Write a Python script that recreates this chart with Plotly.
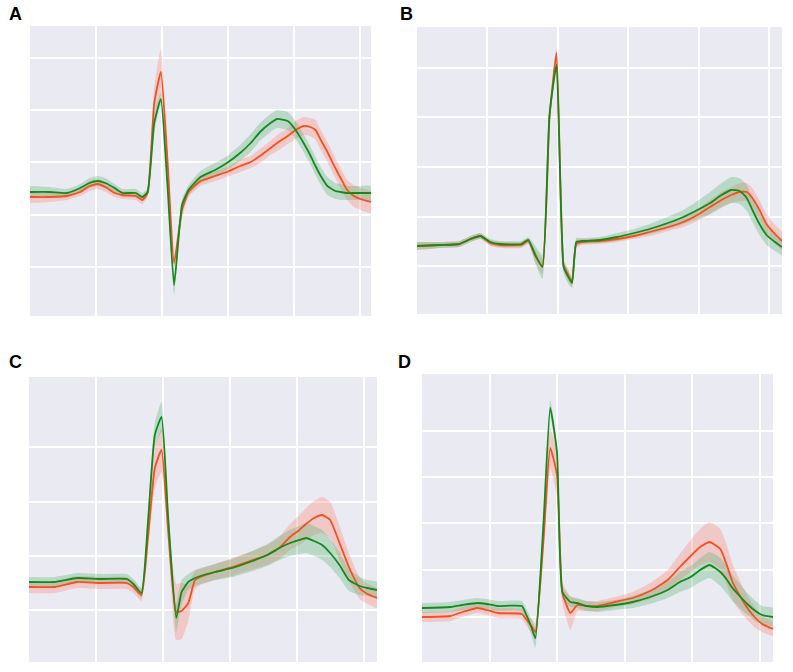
import numpy as np
import plotly.graph_objects as go

# ---------------- data (sample index, amplitude in arbitrary units) ----------------
# Panel A
xA = [0, 15, 28, 38, 45, 51, 57, 64, 70, 80, 85, 89, 94, 99, 104, 109, 115, 120, 129, 140,
      149, 159, 167, 174, 182, 187, 195, 201, 207, 212, 216, 220, 225, 231, 235, 240, 245, 250, 258]
greenA = [-0.60, -0.60, -0.62, -0.52, -0.42, -0.38, -0.42, -0.52, -0.62, -0.62, -0.70, -0.60, 0.78, 1.26,
          -0.46, -2.46, -0.86, -0.56, -0.30, -0.16, -0.02, 0.18, 0.38, 0.60, 0.78, 0.86, 0.82, 0.64, 0.38,
          0.14, -0.08, -0.28, -0.48, -0.58, -0.60, -0.62, -0.62, -0.62, -0.62]
orangeA = [-0.70, -0.70, -0.68, -0.60, -0.48, -0.44, -0.50, -0.62, -0.66, -0.68, -0.76, -0.62, 1.18, 1.80,
           0.04, -2.02, -0.96, -0.60, -0.38, -0.28, -0.20, -0.08, 0.00, 0.12, 0.28, 0.38, 0.52, 0.64, 0.72,
           0.70, 0.64, 0.44, 0.20, -0.12, -0.32, -0.56, -0.68, -0.74, -0.80]
greenA_sd = [0.12, 0.10, 0.08, 0.08, 0.10, 0.10, 0.10, 0.08, 0.08, 0.08, 0.08, 0.08, 0.20, 0.12, 0.10, 0.20,
             0.12, 0.10, 0.12, 0.14, 0.14, 0.16, 0.18, 0.18, 0.18, 0.18, 0.18, 0.18, 0.18, 0.18, 0.18, 0.18,
             0.18, 0.16, 0.16, 0.14, 0.14, 0.14, 0.14]
orangeA_sd = [0.12, 0.10, 0.08, 0.08, 0.10, 0.10, 0.10, 0.08, 0.08, 0.08, 0.08, 0.08, 0.30, 0.46, 0.16, 0.10,
              0.16, 0.10, 0.10, 0.10, 0.10, 0.12, 0.12, 0.14, 0.14, 0.16, 0.16, 0.18, 0.18, 0.18, 0.20, 0.20,
              0.20, 0.20, 0.20, 0.20, 0.22, 0.22, 0.22]

# Panel B
xB = [0, 16, 30, 38, 45, 52, 59, 74, 79, 84, 89, 94, 99, 104, 107, 110, 113, 117, 130, 142, 154, 165,
      176, 189, 199, 208, 216, 223, 229, 234, 238, 243, 248, 254, 259]
greenB = [-0.58, -0.56, -0.54, -0.44, -0.38, -0.50, -0.54, -0.54, -0.46, -0.76, -1.00, 2.04, 3.04, -1.00,
          -1.18, -1.32, -0.50, -0.48, -0.46, -0.40, -0.32, -0.24, -0.14, 0.00, 0.14, 0.28, 0.44, 0.54, 0.52,
          0.38, 0.14, -0.14, -0.36, -0.50, -0.60]
orangeB = [-0.58, -0.56, -0.54, -0.44, -0.38, -0.52, -0.56, -0.56, -0.48, -0.78, -0.98, 1.98, 3.28, -0.96,
           -1.14, -1.30, -0.54, -0.50, -0.48, -0.44, -0.38, -0.30, -0.22, -0.10, 0.04, 0.20, 0.34, 0.44, 0.50,
           0.50, 0.38, 0.14, -0.14, -0.34, -0.48]
greenB_sd = [0.08, 0.06, 0.06, 0.06, 0.06, 0.06, 0.06, 0.06, 0.06, 0.18, 0.24, 0.08, 0.08, 0.12, 0.14, 0.10,
             0.08, 0.06, 0.06, 0.08, 0.08, 0.10, 0.12, 0.14, 0.18, 0.22, 0.24, 0.26, 0.26, 0.26, 0.24, 0.22,
             0.20, 0.18, 0.16]
orangeB_sd = [0.08, 0.06, 0.06, 0.06, 0.06, 0.06, 0.06, 0.06, 0.06, 0.12, 0.16, 0.08, 0.10, 0.10, 0.12, 0.10,
              0.08, 0.06, 0.06, 0.06, 0.06, 0.08, 0.08, 0.10, 0.12, 0.14, 0.16, 0.16, 0.18, 0.18, 0.20, 0.20,
              0.20, 0.18, 0.18]

# Panel C
xC = [0, 19, 36, 53, 73, 78, 84, 89, 94, 99, 104, 110, 114, 119, 124, 128, 139, 152, 165, 178, 187, 195,
      202, 207, 213, 219, 225, 232, 239, 247, 253, 260]
greenC = [-0.52, -0.52, -0.44, -0.46, -0.46, -0.56, -0.74, 0.72, 2.42, 2.78, 0.76, -1.24, -0.72, -0.52,
          -0.44, -0.40, -0.32, -0.24, -0.12, 0.02, 0.16, 0.26, 0.32, 0.36, 0.30, 0.22, 0.06, -0.18, -0.48,
          -0.60, -0.64, -0.68]
orangeC = [-0.62, -0.62, -0.52, -0.54, -0.54, -0.62, -0.78, 0.40, 1.76, 2.12, 0.50, -1.12, -1.10, -0.94,
           -0.48, -0.42, -0.32, -0.22, -0.10, 0.02, 0.16, 0.38, 0.52, 0.64, 0.76, 0.82, 0.72, 0.26, -0.22,
           -0.64, -0.76, -0.84]
greenC_sd = [0.10, 0.10, 0.10, 0.10, 0.10, 0.10, 0.10, 0.20, 0.24, 0.30, 0.20, 0.28, 0.24, 0.16, 0.16, 0.16,
             0.16, 0.18, 0.20, 0.22, 0.24, 0.26, 0.28, 0.30, 0.30, 0.30, 0.28, 0.26, 0.22, 0.18, 0.16, 0.16]
orangeC_sd = [0.12, 0.12, 0.12, 0.12, 0.12, 0.12, 0.12, 0.24, 0.40, 0.44, 0.24, 0.56, 0.56, 0.36, 0.18, 0.16,
              0.16, 0.18, 0.18, 0.20, 0.22, 0.26, 0.30, 0.32, 0.34, 0.36, 0.36, 0.34, 0.28, 0.22, 0.20, 0.20]

# Panel D
xD = [0, 21, 30, 41, 48, 56, 74, 77, 81, 84, 90, 95, 100, 104, 110, 115, 122, 130, 143, 156, 169, 182,
      191, 199, 206, 213, 221, 226, 230, 236, 241, 247, 252, 260]
greenD = [-0.76, -0.74, -0.70, -0.66, -0.68, -0.72, -0.72, -0.88, -1.14, -1.36, 0.94, 3.24, 2.36, -0.44,
          -0.64, -0.66, -0.72, -0.74, -0.70, -0.64, -0.54, -0.40, -0.24, -0.14, 0.00, 0.10, -0.04, -0.20,
          -0.36, -0.54, -0.68, -0.82, -0.90, -0.94]
orangeD = [-0.94, -0.92, -0.84, -0.76, -0.80, -0.86, -0.88, -0.98, -1.12, -1.24, 0.60, 2.44, 1.90, -0.46,
           -0.86, -0.70, -0.72, -0.72, -0.64, -0.56, -0.42, -0.20, 0.06, 0.28, 0.46, 0.56, 0.42, 0.08, -0.24,
           -0.54, -0.76, -0.96, -1.08, -1.18]
greenD_sd = [0.10, 0.10, 0.10, 0.10, 0.10, 0.10, 0.10, 0.12, 0.16, 0.20, 0.16, 0.16, 0.16, 0.12, 0.10, 0.10,
             0.10, 0.10, 0.10, 0.12, 0.14, 0.16, 0.20, 0.22, 0.24, 0.26, 0.28, 0.28, 0.26, 0.24, 0.22, 0.20,
             0.18, 0.18]
orangeD_sd = [0.10, 0.10, 0.10, 0.10, 0.10, 0.10, 0.10, 0.12, 0.14, 0.16, 0.24, 0.40, 0.44, 0.20, 0.34, 0.12,
              0.10, 0.10, 0.10, 0.12, 0.16, 0.20, 0.26, 0.32, 0.36, 0.40, 0.40, 0.40, 0.36, 0.30, 0.24, 0.20,
              0.16, 0.14]

panel_labels = ["A", "B", "C", "D"]

# ---------------- styling ----------------
ORANGE = "#F5501E"
GREEN = "#158A1A"
ORANGE_FILL = "rgba(255,110,90,0.28)"
GREEN_FILL = "rgba(60,170,90,0.27)"
BG = "#EAEAF2"
SMOOTH = 0.45

panels = [
    dict(x=xA, g=greenA, o=orangeA, gs=greenA_sd, os=orangeA_sd,
         xd=[30/793, 371/793], yd=[1-316/672, 1-26/672], xr=[0, 258], yr=[-3.08, 2.72],
         yt=[2.08, 1.04, 0, -1.06, -2.10]),
    dict(x=xB, g=greenB, o=orangeB, gs=greenB_sd, os=orangeB_sd,
         xd=[417/793, 782/793], yd=[1-314/672, 1-27/672], xr=[0, 259], yr=[-1.94, 3.80],
         yt=[2.98, 2.00, 1.00, 0, -0.98]),
    dict(x=xC, g=greenC, o=orangeC, gs=greenC_sd, os=orangeC_sd,
         xd=[29/793, 377/793], yd=[1-662/672, 1-377/672], xr=[0, 260], yr=[-2.12, 3.58],
         yt=[2.18, 1.08, 0, -1.08]),
    dict(x=xD, g=greenD, o=orangeD, gs=greenD_sd, os=orangeD_sd,
         xd=[422/793, 773/793], yd=[1-662/672, 1-374/672], xr=[0, 260], yr=[-1.84, 3.92],
         yt=[2.78, 1.86, 0.94, 0, -0.94]),
]

fig = go.Figure()
layout_axes = {}
for i, p in enumerate(panels):
    n = "" if i == 0 else str(i + 1)
    xa, ya = "x" + n, "y" + n
    x = np.array(p["x"], dtype=float)
    for mean, sd, fill in [(p["o"], p["os"], ORANGE_FILL), (p["g"], p["gs"], GREEN_FILL)]:
        m = np.array(mean); s = np.array(sd)
        fig.add_trace(go.Scatter(
            x=np.concatenate([x, x[::-1]]), y=np.concatenate([m + s, (m - s)[::-1]]),
            fill="toself", fillcolor=fill, line=dict(width=0, shape="spline", smoothing=SMOOTH),
            mode="lines", hoverinfo="skip", showlegend=False, xaxis=xa, yaxis=ya))
    for mean, col in [(p["o"], ORANGE), (p["g"], GREEN)]:
        fig.add_trace(go.Scatter(x=x, y=mean, mode="lines",
                                 line=dict(color=col, width=1.8, shape="spline", smoothing=SMOOTH),
                                 showlegend=False, xaxis=xa, yaxis=ya))
    layout_axes["xaxis" + n] = dict(domain=p["xd"], range=p["xr"], anchor=ya,
                                    tickvals=[50, 100, 150, 200, 250], showticklabels=False,
                                    ticks="", showgrid=True, gridcolor="white", gridwidth=1.5,
                                    zeroline=False, showline=False)
    layout_axes["yaxis" + n] = dict(domain=p["yd"], range=p["yr"], anchor=xa,
                                    tickvals=p["yt"], showticklabels=False, ticks="",
                                    showgrid=True, gridcolor="white", gridwidth=1.5,
                                    zeroline=False, showline=False)

shapes = []
for i, p in enumerate(panels):
    shapes.append(dict(type="rect", xref="paper", yref="paper", layer="below",
                       x0=p["xd"][0], x1=p["xd"][1], y0=p["yd"][0], y1=p["yd"][1],
                       fillcolor=BG, line=dict(width=0)))

label_pos = [(15, 14), (406, 14), (15, 362), (404, 362)]
annotations = []
for lab, (lx, ly) in zip(panel_labels, label_pos):
    annotations.append(dict(text="<b>%s</b>" % lab, x=lx/793, y=1-ly/672, xref="paper", yref="paper",
                            showarrow=False, xanchor="center", yanchor="middle",
                            font=dict(family="Liberation Sans, Arial, sans-serif", size=18, color="black")))

fig.update_layout(width=793, height=672, margin=dict(l=0, r=0, t=0, b=0),
                  paper_bgcolor="white", plot_bgcolor=BG, shapes=shapes,
                  annotations=annotations, **layout_axes)
fig.write_html("out.html", config={"displayModeBar": False},
               post_script="document.body.style.margin='0px';document.body.style.overflow='hidden';")
